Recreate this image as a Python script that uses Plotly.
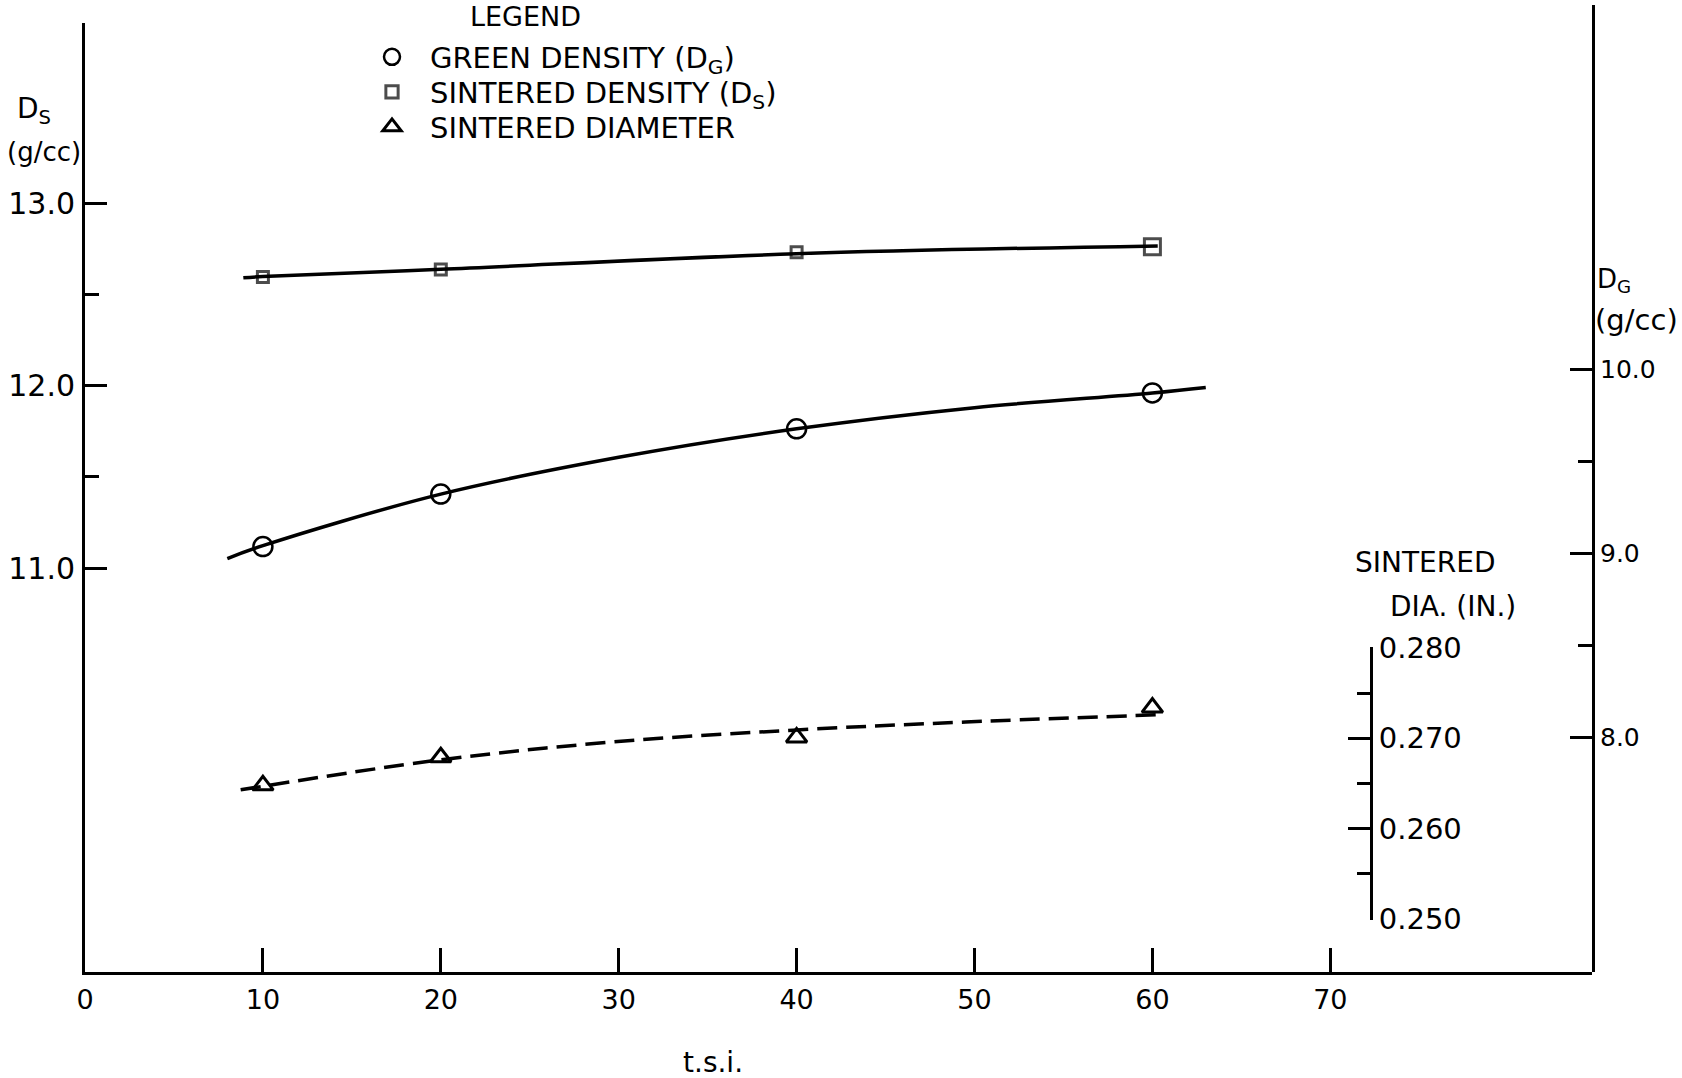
import plotly.graph_objects as go

# ---------------- data ----------------
tsi = [10, 20, 40, 60]
sintered_density = [12.595, 12.635, 12.73, 12.76]      # D_S, left axis (g/cc)
green_density = [9.035, 9.32, 9.675, 9.87]             # D_G, right axis (g/cc)
sintered_diameter = [0.2648, 0.2679, 0.2701, 0.2734]   # inches, inner axis

# hand-drawn curves through the points
ds_curve_x = [8.9, 10, 20, 40, 60.3]
ds_curve_y = [12.59, 12.597, 12.637, 12.722, 12.765]
dg_curve_x = [8.0, 10, 20, 30, 40, 50, 60, 63]
dg_curve_y = [8.97, 9.04, 9.32, 9.52, 9.675, 9.79, 9.87, 9.90]
dia_curve_x = [8.75, 19.9, 29.7, 39.8, 49.5, 60.3]
dia_curve_y = [0.2643, 0.2676, 0.2696, 0.2709, 0.2718, 0.2726]

x_ticks = [0, 10, 20, 30, 40, 50, 60, 70]
ds_ticks = [11.0, 12.0, 13.0]
ds_minor = [11.5, 12.5]
dg_ticks = [8.0, 9.0, 10.0]
dg_minor = [8.5, 9.5]
dia_ticks = [0.250, 0.260, 0.270, 0.280]
dia_minor = [0.255, 0.265, 0.275]

# ---------------- geometry helpers ----------------
W, H = 1682, 1078
def fx(px):
    return px / W
def fy(py):
    return 1 - py / H

X0, XPX = 85, 17.79          # pixel of x=0, pixels per unit
XR = 1592                    # right end of x axis (right y axis)
YB = 972                     # x axis pixel row
x_range = [0, (XR - X0) / XPX]
x_dom = [fx(X0), fx(XR)]

def ds_val(py):
    return 11.0 + (568 - py) / 182.5
def dg_val(py):
    return 10.0 + (369 - py) / 184.0

BLACK = "#000000"
FONT = "DejaVu Sans"

fig = go.Figure()

line_style = dict(color=BLACK, width=3.5, shape="spline", smoothing=1.0)

# curves
fig.add_trace(go.Scatter(x=ds_curve_x, y=ds_curve_y, mode="lines", line=line_style,
                         showlegend=False, hoverinfo="skip", xaxis="x", yaxis="y"))
fig.add_trace(go.Scatter(x=dg_curve_x, y=dg_curve_y, mode="lines", line=line_style,
                         showlegend=False, hoverinfo="skip", xaxis="x2", yaxis="y2"))
fig.add_trace(go.Scatter(x=dia_curve_x, y=dia_curve_y, mode="lines",
                         line=dict(color=BLACK, width=3.5, dash="20px,9px", shape="spline", smoothing=1.0),
                         showlegend=False, hoverinfo="skip", xaxis="x3", yaxis="y3"))

# markers, each in its own legend row
fig.add_trace(go.Scatter(x=tsi, y=green_density, mode="markers",
                         name="GREEN DENSITY (D<sub>G</sub>)", legend="legend",
                         marker=dict(symbol="circle-open", size=19, color=BLACK, line=dict(width=2.5, color=BLACK)),
                         xaxis="x2", yaxis="y2", cliponaxis=False))
fig.add_trace(go.Scatter(x=tsi, y=sintered_density, mode="markers",
                         name="SINTERED DENSITY (D<sub>S</sub>)", legend="legend2",
                         marker=dict(symbol="square-open", size=[11, 11, 11, 16], color=BLACK,
                                     line=dict(width=3, color=BLACK)),
                         xaxis="x", yaxis="y", cliponaxis=False))
fig.add_trace(go.Scatter(x=tsi, y=sintered_diameter, mode="markers",
                         name="SINTERED DIAMETER", legend="legend3",
                         marker=dict(symbol="triangle-up-open", size=18, color=BLACK,
                                     line=dict(width=3, color=BLACK)),
                         xaxis="x3", yaxis="y3", cliponaxis=False))

tick_common = dict(ticks="inside", tickwidth=3, tickcolor=BLACK, showgrid=False, zeroline=False,
                   showline=True, linewidth=3, linecolor=BLACK, automargin=False)

hidden_x = dict(visible=False, range=x_range, domain=x_dom, showgrid=False, zeroline=False)

LEG_X = 354
def leg(py):
    return dict(x=fx(LEG_X), y=fy(py), xanchor="left", yanchor="middle",
                font=dict(size=29, family=FONT, color=BLACK),
                bgcolor="rgba(0,0,0,0)", borderwidth=0, itemsizing="trace", itemwidth=66)

fig.update_layout(
    width=W, height=H, autosize=False,
    margin=dict(l=0, r=0, t=0, b=0, pad=0, autoexpand=False),
    paper_bgcolor="white", plot_bgcolor="rgba(0,0,0,0)",
    font=dict(family=FONT, color=BLACK, size=24),
    xaxis=dict(domain=x_dom, range=x_range, anchor="y", tickmode="array", tickvals=x_ticks,
               ticktext=[str(v) for v in x_ticks], ticklen=24, ticklabelstandoff=2,
               tickfont=dict(size=27, family=FONT), **tick_common),
    yaxis=dict(domain=[fy(YB), fy(23)], range=[ds_val(YB), ds_val(23)], anchor="x",
               tickmode="array", tickvals=ds_ticks, ticktext=[f"{v:.1f}" for v in ds_ticks],
               ticklen=22, ticklabelstandoff=1, tickfont=dict(size=30, family=FONT),
               minor=dict(tickmode="array", tickvals=ds_minor, ticks="inside", ticklen=14,
                          tickwidth=3, tickcolor=BLACK),
               **tick_common),
    xaxis2=dict(anchor="y2", **hidden_x),
    yaxis2=dict(domain=[fy(YB), fy(5)], range=[dg_val(YB), dg_val(5)], anchor="x2", side="right",
                tickmode="array", tickvals=dg_ticks, ticktext=[f"{v:.1f}" for v in dg_ticks],
                ticklen=22, tickfont=dict(size=25, family=FONT),
                minor=dict(tickmode="array", tickvals=dg_minor, ticks="inside", ticklen=14,
                           tickwidth=3, tickcolor=BLACK),
                **tick_common),
    xaxis3=dict(anchor="y3", **hidden_x),
    yaxis3=dict(domain=[fy(920), fy(647)], range=[0.2499, 0.2801], anchor="free",
                position=fx(1371), side="right",
                tickmode="array", tickvals=dia_ticks, ticktext=[f"{v:.3f}" for v in dia_ticks],
                ticklen=22, tickfont=dict(size=29, family=FONT),
                minor=dict(tickmode="array", tickvals=dia_minor, ticks="inside", ticklen=13,
                           tickwidth=3, tickcolor=BLACK),
                **tick_common),
    legend=leg(57),
    legend2=leg(92),
    legend3=leg(127),
    showlegend=True,
)

def note(text, px, py, size, xanchor="center"):
    fig.add_annotation(text=text, x=fx(px), y=fy(py), xref="paper", yref="paper",
                       xanchor=xanchor, yanchor="middle", showarrow=False,
                       font=dict(size=size, family=FONT, color=BLACK))

note("LEGEND", 525, 16, 27)
note("D<sub>S</sub>", 34, 110, 28)
note("(g/cc)", 44, 152, 26)
note("D<sub>G</sub>", 1614, 281, 26)
note("(g/cc)", 1636, 320, 29)
note("SINTERED", 1425, 562, 28)
note("DIA. (IN.)", 1453, 606, 28)
note("t.s.i.", 713, 1062, 28)

fig.write_html(
    "out.html",
    config={"displayModeBar": False},
    post_script="document.body.style.margin='0';document.body.style.padding='0';"
                "document.documentElement.style.overflow='hidden';",
)
